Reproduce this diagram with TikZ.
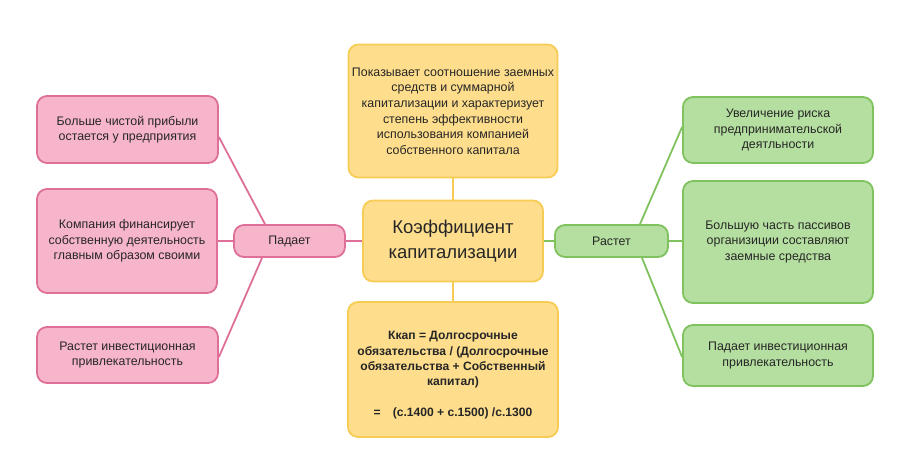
\documentclass[tikz,border=0pt]{standalone}
\usepackage{fontspec}
\setmainfont{Liberation Sans}
\definecolor{pinkfill}{HTML}{F7B5CB}
\definecolor{pinkline}{HTML}{DD6F98}
\definecolor{greenfill}{HTML}{B5DFA0}
\definecolor{greenline}{HTML}{80C25E}
\definecolor{yelfill}{HTML}{FEDE8C}
\definecolor{yelline}{HTML}{F7CC55}
\begin{document}
\begin{tikzpicture}[x=1pt,y=-1pt,
  box/.style={rectangle,rounded corners=10pt,line width=1.8pt,inner sep=0pt,align=center,
    font=\fontsize{12.4}{15.6}\selectfont,text=black!85},
  pinkbox/.style={box,draw=pinkline,fill=pinkfill},
  greenbox/.style={box,draw=greenline,fill=greenfill},
  yelbox/.style={box,draw=yelline,fill=yelfill},
  pinkconn/.style={draw=pinkline,line width=1.8pt},
  greenconn/.style={draw=greenline,line width=1.8pt},
  yelconn/.style={draw=yelline,line width=1.8pt}]
\useasboundingbox (0,0) rectangle (907,468);
% centre
\node[yelbox,minimum width=180pt,minimum height=81pt,font=\fontsize{18.5}{25}\selectfont] (c) at (453,241) {Коэффициент\\капитализации};
\node[yelbox,minimum width=209pt,minimum height=133pt] (top) at (453,111)
  {Показывает соотношение заемных\\средств и суммарной\\капитализации и характеризует\\степень эффективности\\использования компанией\\собственного капитала};
\node[yelbox,minimum width=210pt,minimum height=135pt,font=\fontsize{12.1}{15.2}\selectfont\bfseries] (bot) at (453,369.5)
  {\mbox{}\\[5pt]Ккап = Долгосрочные\\обязательства / (Долгосрочные\\обязательства + Собственный\\капитал)\\[16pt]=\quad (с.1400 + с.1500) /с.1300};
% left
\node[pinkbox,minimum width=111pt,minimum height=32pt] (pad) at (289.5,241) {Падает};
\node[pinkbox,minimum width=181pt,minimum height=67pt] (l1) at (127.5,129.5) {Больше чистой прибыли\\остается у предприятия};
\node[pinkbox,minimum width=180pt,minimum height=104pt] (l2) at (127,241) {Компания финансирует\\собственную деятельность\\главным образом своими};
\node[pinkbox,minimum width=181pt,minimum height=56pt] (l3) at (127.5,355) {Растет инвестиционная\\привлекательность};
% right
\node[greenbox,minimum width=113pt,minimum height=32pt] (ras) at (611.5,241) {Растет};
\node[greenbox,minimum width=190pt,minimum height=66pt] (r1) at (778,130) {Увеличение риска\\предпринимательской\\деятльности};
\node[greenbox,minimum width=190pt,minimum height=122pt] (r2) at (778,242) {Большую часть пассивов\\организиции составляют\\заемные средства};
\node[greenbox,minimum width=190pt,minimum height=61pt] (r3) at (778,355.5) {Падает инвестиционная\\привлекательность};
% connectors
\draw[yelconn] (top.south) -- (c.north);
\draw[yelconn] (c.south) -- (bot.north);
\draw[pinkconn] (pad.east) -- (c.west);
\draw[pinkconn] ([yshift=-7.5pt]l1.east) -- ([xshift=-24.5pt]pad.north);
\draw[pinkconn] (l2.east) -- (pad.west);
\draw[pinkconn] ([yshift=-2pt]l3.east) -- ([xshift=-27.5pt]pad.south);
\draw[greenconn] (c.east) -- (ras.west);
\draw[greenconn] ([xshift=28.5pt]ras.north) -- ([yshift=3pt]r1.west);
\draw[greenconn] (ras.east) -- (ras.east -| r2.west);
\draw[greenconn] ([xshift=30.5pt]ras.south) -- ([yshift=-1.5pt]r3.west);
\end{tikzpicture}
\end{document}
